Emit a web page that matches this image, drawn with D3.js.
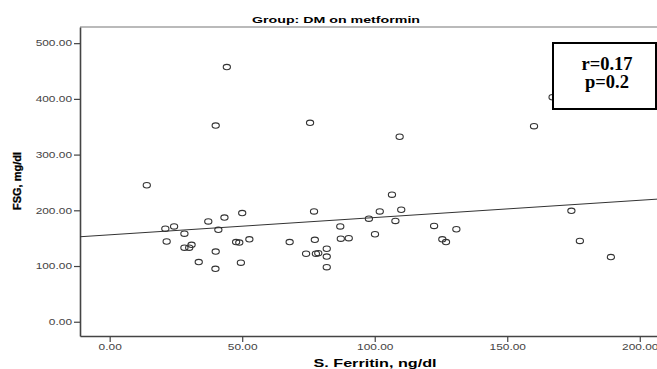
<!DOCTYPE html>
<html>
<head>
  <meta charset="utf-8">
  <title>Group: DM on metformin</title>
  <script src="https://d3js.org/d3.v7.min.js"></script>
  <style>
    html, body { margin: 0; padding: 0; background: #fff; }
    svg { display: block; }
    .tick text { font-family: "Liberation Sans", Arial, sans-serif; font-size: 8.4px; fill: #444; }
    .tick line { stroke: #444; }
  </style>
</head>
<body>
  <svg id="chart" width="657" height="369"></svg>
  <script>
    // S. Ferritin (ng/dl) vs FSG (mg/dl)
    const ferritin = [14, 21, 24.3, 21.5, 28.2, 28.2, 30, 30.9, 33.6, 37.2,
      40, 39.9, 41, 43.3, 47.7, 48.9, 50, 49.5, 52.7, 67.9,
      77.1, 77.4, 74.1, 77.8, 78.7, 81.9, 81.9, 81.9, 44.2, 40,
      75.6, 109.4, 160.1, 167.1, 87, 87.2, 90.2, 97.8, 100.1, 101.9,
      106.5, 107.8, 110, 122.4, 125.5, 126.9, 130.8, 174.2, 177.4, 189.1]
    const fsg = [245, 167, 171, 144, 158, 133, 133, 138, 107, 180,
      126, 95, 165, 187, 143, 142, 195, 106, 148, 143,
      198, 147, 122, 122, 123, 131, 117, 98, 457, 352,
      357, 332, 351, 403, 171, 149, 150, 185, 157, 198,
      228, 181, 201, 172, 148, 143, 166, 199, 145, 116]
    const xTicks = [0, 50, 100, 150, 200]
    const yTicks = [0, 100, 200, 300, 400, 500]
    const fitIntercept = 156
    const fitSlope = 0.31
    const statLines = ['r=0.17', 'p=0.2']

    const svg = d3.select('#chart')
    const plot = { left: 80, right: 657, top: 27, bottom: 336 }

    const x = d3.scaleLinear().domain([-11.2, 206.5]).range([plot.left, plot.right])
    const y = d3.scaleLinear().domain([-25.6, 529]).range([plot.bottom, plot.top])
    const fmt = d3.format('.2f')

    // the source picture is stretched sideways, so widen sans text to match
    function widen(sel, k) {
      sel.each(function () {
        const len = this.getComputedTextLength()
        d3.select(this).attr('textLength', len * k).attr('lengthAdjust', 'spacingAndGlyphs')
      })
    }

    // top frame line
    svg.append('line')
      .attr('x1', plot.left).attr('x2', plot.right).attr('y1', plot.top).attr('y2', plot.top)
      .attr('stroke', '#777').attr('stroke-width', 1.2)

    const yAxis = svg.append('g')
      .attr('transform', `translate(${plot.left},0)`)
      .call(d3.axisLeft(y).tickValues(yTicks).tickFormat(fmt).tickSize(6).tickSizeOuter(0))
    const xAxis = svg.append('g')
      .attr('transform', `translate(0,${plot.bottom})`)
      .call(d3.axisBottom(x).tickValues(xTicks).tickFormat(fmt).tickSize(6).tickSizeOuter(0))
    ;[xAxis, yAxis].forEach(g => {
      g.select('.domain').attr('stroke', '#444').attr('stroke-width', 1.6)
      g.selectAll('.tick line').attr('stroke-width', 1.2)
      widen(g.selectAll('.tick text'), 1.42)
    })
    yAxis.selectAll('.tick text').attr('x', -8)
    xAxis.selectAll('.tick text').attr('y', 8)

    // fit line
    const xd = x.domain()
    svg.append('line')
      .attr('x1', x(xd[0])).attr('y1', y(fitIntercept + fitSlope * xd[0]))
      .attr('x2', x(xd[1])).attr('y2', y(fitIntercept + fitSlope * xd[1]))
      .attr('stroke', '#333').attr('stroke-width', 1)

    svg.append('g').selectAll('ellipse')
      .data(d3.range(ferritin.length))
      .join('ellipse')
      .attr('cx', i => x(ferritin[i]))
      .attr('cy', i => y(fsg[i]))
      .attr('rx', 3.6)
      .attr('ry', 2.7)
      .attr('fill', 'none')
      .attr('stroke', '#333')
      .attr('stroke-width', 1.1)

    // title + axis titles
    svg.append('text')
      .attr('x', 336).attr('y', 23)
      .attr('text-anchor', 'middle')
      .style('font', 'bold 9.5px "Liberation Sans", Arial, sans-serif')
      .attr('textLength', 168).attr('lengthAdjust', 'spacingAndGlyphs')
      .text('Group: DM on metformin')

    svg.append('text')
      .attr('x', 375).attr('y', 367)
      .attr('text-anchor', 'middle')
      .style('font', 'bold 10.5px "Liberation Sans", Arial, sans-serif')
      .attr('textLength', 123).attr('lengthAdjust', 'spacingAndGlyphs')
      .text('S. Ferritin, ng/dl')

    svg.append('text')
      .attr('transform', 'translate(21,181) rotate(-90)')
      .attr('text-anchor', 'middle')
      .style('font', 'bold 11px "Liberation Sans", Arial, sans-serif')
      .attr('stroke', '#000').attr('stroke-width', 0.3)
      .text('FSG, mg/dl')

    // stats box
    svg.append('rect')
      .attr('x', 553).attr('y', 43).attr('width', 103).attr('height', 66)
      .attr('fill', '#fff').attr('stroke', '#000').attr('stroke-width', 2)
    svg.append('g').selectAll('text')
      .data(statLines)
      .join('text')
      .attr('x', 607)
      .attr('y', (d, i) => 70 + i * 17.5)
      .attr('text-anchor', 'middle')
      .style('font', 'bold 18.5px "Liberation Serif", "Times New Roman", serif')
      .text(d => d)
  </script>
</body>
</html>
